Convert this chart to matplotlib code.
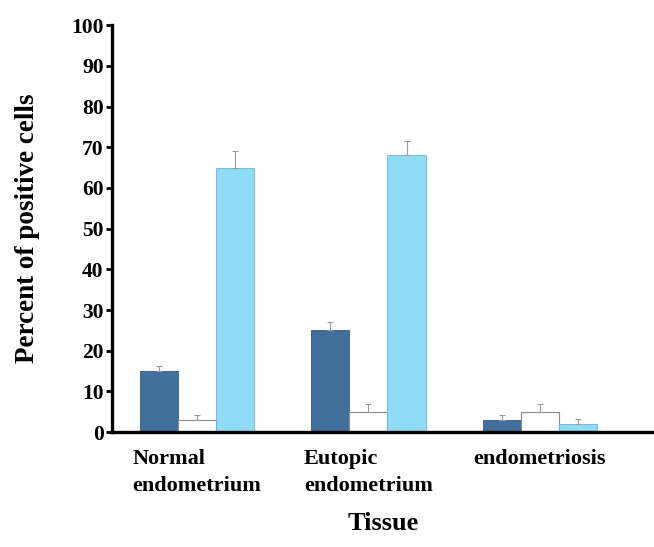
import numpy as np
import matplotlib.pyplot as plt

# data
tissues = ["Normal\nendometrium", "Eutopic\nendometrium", "endometriosis"]
dark_vals = [15, 25, 3]
dark_err = [1.3, 2.0, 1.2]
white_vals = [3, 5, 5]
white_err = [1.2, 2.0, 2.0]
light_vals = [65, 68, 2]
light_err = [4.0, 3.5, 1.3]
yticks = list(range(0, 101, 10))

plt.rcParams["font.family"] = ["Liberation Serif", "DejaVu Serif"]
plt.rcParams["font.weight"] = "bold"

fig = plt.figure(figsize=(6.54, 5.47), dpi=100)
ax = fig.add_axes([0.171, 0.210, 0.829, 0.744])

x = np.arange(len(tissues))
w = 0.222
err_kw = dict(ecolor="#9a9a9a", elinewidth=0.8, capsize=2, capthick=0.8)

ax.bar(x - w, dark_vals, w, color="#41709c", edgecolor="#35597d", linewidth=0.6,
       yerr=[np.zeros(3), dark_err], error_kw=err_kw)
ax.bar(x, white_vals, w, color="white", edgecolor="#8a8a8a", linewidth=0.8,
       yerr=[np.zeros(3), white_err], error_kw=err_kw)
ax.bar(x + w, light_vals, w, color="#8fdcf7", edgecolor="#6fb4cc", linewidth=0.6,
       yerr=[np.zeros(3), light_err], error_kw=err_kw)

ax.set_xlim(-0.496, 2.665)
ax.set_ylim(0, 100)
ax.set_yticks(yticks)
ax.set_yticklabels([str(t) for t in yticks], fontsize=15.5, fontweight="bold")
ax.set_xticks(x)
ax.set_xticklabels(tissues, fontsize=16, fontweight="bold",
                   multialignment="left", linespacing=1.45)
ax.tick_params(axis="x", length=0, pad=12)
ax.tick_params(axis="y", direction="out", length=4, width=2, pad=2)

for s in ["top", "right"]:
    ax.spines[s].set_visible(False)
ax.spines["left"].set_linewidth(2.4)
ax.spines["bottom"].set_linewidth(2.4)

ax.set_ylabel("Percent of positive cells", fontsize=19.5, fontweight="bold", labelpad=22)
ax.set_xlabel("Tissue", fontsize=19, fontweight="bold", labelpad=12)

fig.savefig("out.png", dpi=100)
